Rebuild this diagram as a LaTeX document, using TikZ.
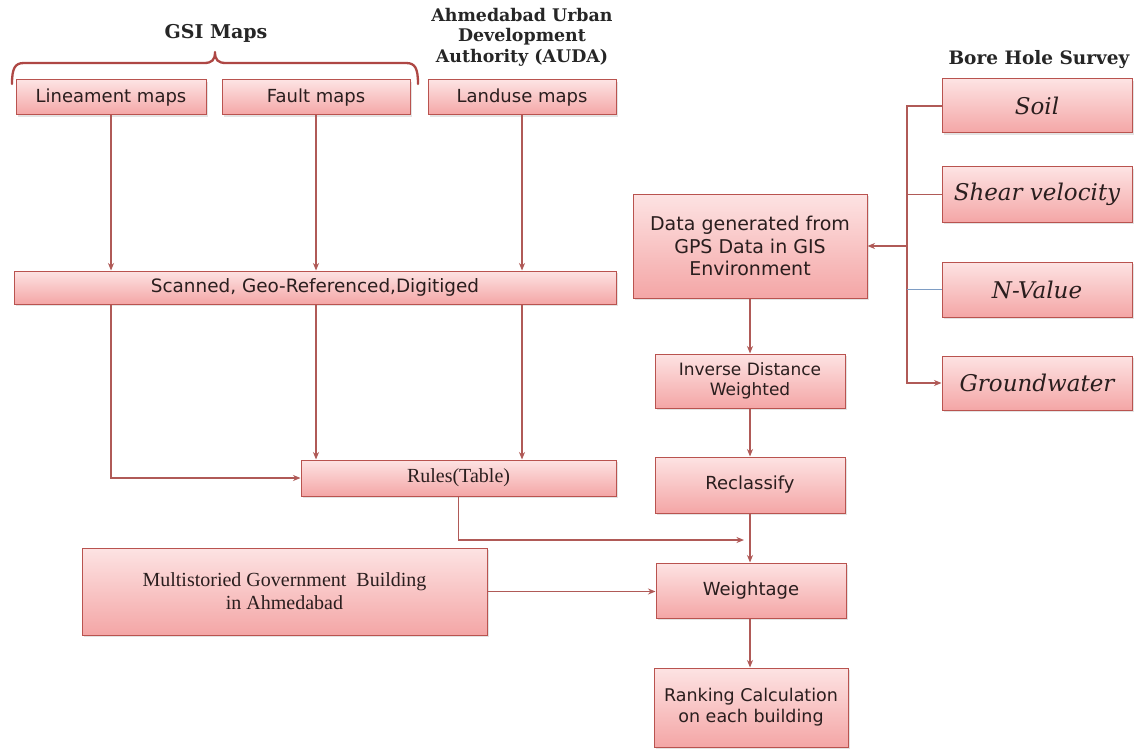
\documentclass[tikz,border=0pt]{standalone}
\usepackage{fontspec}
\usetikzlibrary{arrows.meta,shadows,calc}
\newfontfamily\boxf{DejaVu Sans}
\newfontfamily\serf{Liberation Serif}
\newfontfamily\headf{DejaVu Serif}
\newfontfamily\scrf{DejaVu Serif}
\definecolor{boxtop}{HTML}{FDE3E3}
\definecolor{boxbot}{HTML}{F4A6A6}
\definecolor{boxline}{HTML}{B9534F}
\definecolor{connc}{HTML}{B05A57}
\definecolor{bluec}{HTML}{7E9DC4}
\definecolor{txtc}{HTML}{2A1E1E}
\definecolor{bracec}{HTML}{AE4744}
\tikzset{
  pbox/.style={draw=boxline, line width=1pt, top color=boxtop, bottom color=boxbot,
    inner sep=0pt, align=center, text=txtc,
    drop shadow={opacity=0.22, shadow xshift=1.5pt, shadow yshift=-2pt}},
  sansf/.style={font=\boxf\fontsize{18}{22}\selectfont},
  serff/.style={font=\serf\fontsize{20}{23}\selectfont},
  scrff/.style={font=\scrf\itshape\fontsize{23}{26}\selectfont},
  headt/.style={font=\headf\bfseries\fontsize{17.4}{20.5}\selectfont, align=center, text=black!85},
  conn/.style={draw=connc, line width=1.2pt},
  arr/.style={conn, -{Stealth[length=7.5pt,width=6pt]}},
}
\begin{document}
\begin{tikzpicture}[x=1pt,y=-1pt]
\useasboundingbox (0,0) rectangle (1141,749);
\fill[white] (0,0) rectangle (1141,749);

% headings
\node[headt, font=\headf\bfseries\fontsize{19}{22}\selectfont] (gsi) at (216,33) {GSI Maps};
\node[headt] (auda) at (522,37) {Ahmedabad Urban\\Development\\Authority (AUDA)};
\node[headt, font=\headf\bfseries\fontsize{18.5}{20}\selectfont] (bore) at (1039,60) {Bore Hole Survey};

% brace
\draw[draw=bracec, line width=2.3pt, line cap=round, line join=round]
  (12,84) .. controls (12,68) and (15,63) .. (24,63) -- (204,63)
  .. controls (212,63) and (215,60) .. (215,52)
  .. controls (215,60) and (218,63) .. (226,63) -- (406,63)
  .. controls (415,63) and (418,68) .. (418,84);

% top boxes
\node[pbox, sansf, minimum width=190pt, minimum height=35pt] (lin) at (111,97.5) {Lineament maps};
\node[pbox, sansf, minimum width=188pt, minimum height=35pt] (fault) at (316,97.5) {Fault maps};
\node[pbox, sansf, minimum width=188pt, minimum height=35pt] (land) at (522,97.5) {Landuse maps};

\node[pbox, font=\boxf\fontsize{18.4}{22}\selectfont, minimum width=602pt, minimum height=33pt] (scan) at (315,287.5) {Scanned, Geo-Referenced,Digitiged};
\node[pbox, serff, minimum width=315pt, minimum height=36pt] (rules) at (458.5,478) {Rules(Table)};
\node[pbox, serff, minimum width=405pt, minimum height=87pt] (multi) at (284.5,591.5) {Multistoried Government \ Building\\in Ahmedabad};

% middle column
\node[pbox, font=\boxf\fontsize{19}{22.5}\selectfont, minimum width=234pt, minimum height=104pt] (data) at (750,246) {Data generated from\\GPS Data in GIS\\Environment};
\node[pbox, font=\boxf\fontsize{17}{20}\selectfont, minimum width=190pt, minimum height=54pt] (idw) at (750,381) {Inverse Distance\\Weighted};
\node[pbox, sansf, minimum width=190pt, minimum height=56pt] (recl) at (750,485) {Reclassify};
\node[pbox, sansf, minimum width=190pt, minimum height=55pt] (weight) at (751,590.5) {Weightage};
\node[pbox, font=\boxf\fontsize{17.5}{21}\selectfont, minimum width=194pt, minimum height=79pt] (rank) at (751,707.5) {Ranking Calculation\\on each building};

% bore hole boxes
\node[pbox, scrff, minimum width=190pt, minimum height=54pt] (soil) at (1037,106) {Soil};
\node[pbox, scrff, minimum width=190pt, minimum height=55pt] (shear) at (1037,194.5) {Shear velocity};
\node[pbox, scrff, minimum width=190pt, minimum height=55pt] (nval) at (1037,289.5) {N-Value};
\node[pbox, scrff, minimum width=190pt, minimum height=54pt] (gw) at (1037,383) {Groundwater};

% connectors: maps to scanned
\draw[arr] (lin.south) -- (lin.south |- scan.north);
\draw[arr] (fault.south) -- (fault.south |- scan.north);
\draw[arr] (land.south) -- (land.south |- scan.north);

% scanned to rules
\draw[arr] (scan.south -| lin.south) |- (rules.west);
\draw[arr] (scan.south -| fault.south) -- (rules.north -| fault.south);
\draw[arr] (scan.south -| land.south) -- (rules.north -| land.south);

% rules to main column
\coordinate (rj) at (744,540);
\draw[arr] (rules.south) |- (rj);

% main column
\draw[arr] (data.south) -- (idw.north);
\draw[arr] (idw.south) -- (recl.north);
\draw[arr] (recl.south) -- (recl.south |- weight.north);
\draw[arr] (weight.south -| recl.south) -- (rank.north -| recl.south);
\draw[arr] (multi.east) -- (multi.east -| weight.west);

% bore hole bus
\coordinate (bx) at (907,0);
\draw[arr] (soil.west) -| (bx |- gw.west) -- (gw.west);
\draw[conn] (shear.west) -- (shear.west -| bx);
\draw[draw=bluec, line width=1.2pt] (nval.west) -- (nval.west -| bx);
\draw[arr] (data.east -| bx) -- (data.east);
\end{tikzpicture}
\end{document}
